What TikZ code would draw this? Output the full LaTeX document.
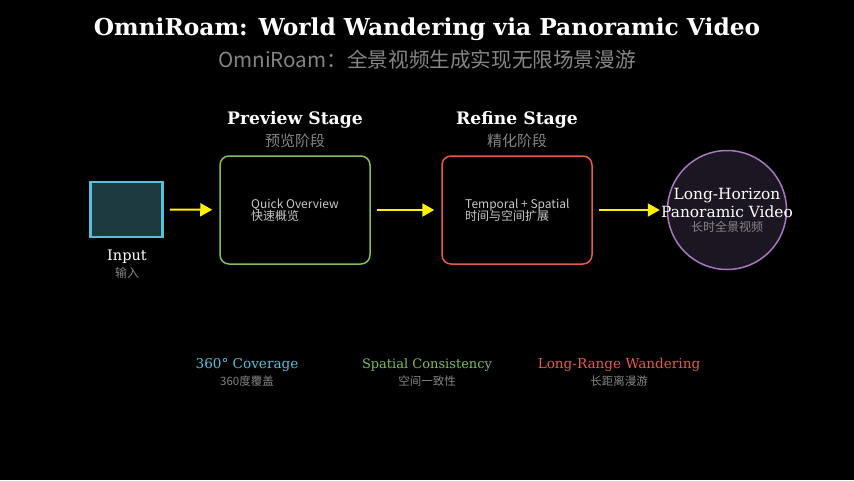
\documentclass[tikz,border=0pt]{standalone}
\usepackage{fontspec}
\setmainfont{DejaVu Serif}
\newfontfamily\cjk{Noto Sans CJK SC}
\usetikzlibrary{positioning,arrows.meta}
\definecolor{incyan}{HTML}{56C0D8}
\definecolor{infill}{HTML}{1C3A40}
\definecolor{prevgreen}{HTML}{82BE5A}
\definecolor{refred}{HTML}{E8594C}
\definecolor{vidpurple}{HTML}{A678C0}
\definecolor{vidfill}{HTML}{1C1622}
\definecolor{subgray}{HTML}{858585}
\definecolor{boxtext}{HTML}{C8C8C8}
\newcommand{\fsz}[1]{\fontsize{#1pt}{\dimexpr #1pt*6/5\relax}\selectfont}

\begin{document}
\begin{tikzpicture}[x=1pt,y=-1pt,
    stagebox/.style={draw, line width=1.5pt, rounded corners=9pt, minimum width=150pt, minimum height=108pt},
    flow/.style={draw=yellow, line width=2pt, -{Triangle[length=12pt,width=13pt]}, shorten <=6pt, shorten >=7pt},
    cn/.style={text=subgray, font=\cjk\fsz{#1}},
    cn/.default=12]
      \fill[black] (0,0) rectangle (854,480);
      \useasboundingbox (0,0) rectangle (854,480);
      \node[text=white, font=\bfseries\fsz{23.3}] (title) at (427,29) {OmniRoam: World Wandering via Panoramic Video};
      \node[cn=20.6] (subtitle) at (427,60) {OmniRoam：全景视频生成实现无限场景漫游};

      \node[draw=incyan, fill=infill, line width=2.5pt, minimum width=72pt, minimum height=55pt] (input) at (126.5,209.5) {};
      \node[text=white, font=\fsz{14.5}] (inlbl) at (127,257) {Input};
      \node[cn=12] (incn) at (127,273) {输入};

      \node[stagebox, draw=prevgreen] (preview) at (295,210) {};
      \node[text=white, font=\bfseries\fsz{17.2}] (prevttl) at (295,120) {Preview Stage};
      \node[cn=15] (prevcn) at (295,141) {预览阶段};
      \node[text=boxtext, font=\cjk\fsz{12}, align=left, inner sep=0pt, anchor=north west] (prevtxt) at (251,199) {Quick Overview\\[-3pt]快速概览};

      \node[stagebox, draw=refred] (refine) at (517,210) {};
      \node[text=white, font=\bfseries\fsz{17.2}] (refttl) at (517,120) {Refine Stage};
      \node[cn=15] (refcn) at (517,141) {精化阶段};
      \node[text=boxtext, font=\cjk\fsz{12}, align=left, inner sep=0pt, anchor=north west] (reftxt) at (465,199) {Temporal + Spatial\\[-3pt]时间与空间扩展};

      \node[circle, draw=vidpurple, fill=vidfill, line width=1.5pt, minimum size=119pt] (video) at (727,210) {};
      \node[text=white, font=\fsz{15.4}, align=center, inner sep=0pt] (vidtxt) at (727,203) {Long-Horizon\\[-1pt]Panoramic Video};
      \node[cn=12] (vidcn) at (727,227) {长时全景视频};

      \draw[flow] (input) -- (preview);
      \draw[flow] (preview) -- (refine);
      \draw[flow] (refine) -- (video);

      \node[text=incyan, font=\fsz{13.6}] (cover) at (247,365) {360° Coverage};
      \node[cn=11.5] (covercn) at (247,381) {360度覆盖};
      \node[text=prevgreen, font=\fsz{13}] (consist) at (427,365) {Spatial Consistency};
      \node[cn=11.5] (consistcn) at (427,381) {空间一致性};
      \node[text=refred, font=\fsz{13.6}] (wander) at (619,365) {Long-Range Wandering};
      \node[cn=11.5] (wandercn) at (619,381) {长距离漫游};
\end{tikzpicture}
\end{document}
